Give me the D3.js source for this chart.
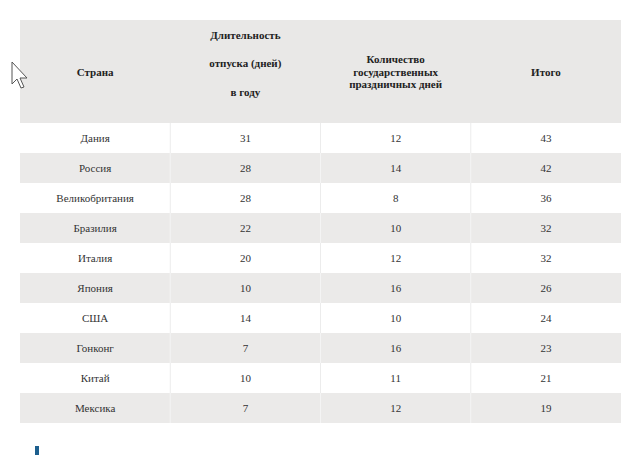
<!DOCTYPE html><html><head><meta charset="utf-8">
<script src="https://cdn.jsdelivr.net/npm/d3@7"></script>
<style>body{margin:0;background:#fff}</style></head><body>
<script>
const countries=["Дания","Россия","Великобритания","Бразилия","Италия","Япония","США","Гонконг","Китай","Мексика"];
const vacation=[31,28,28,22,20,10,14,7,10,7];
const holidays=[12,14,8,10,12,16,10,16,11,12];
const totals=[43,42,36,32,32,26,24,23,21,19];
const headers=[["Страна"],["Длительность","отпуска (дней)","в году"],["Количество","государственных","праздничных дней"],["Итого"]];

const W=640,H=455;
const svg=d3.select("body").append("svg").attr("width",W).attr("height",H);
const x=d3.scaleBand().domain(d3.range(4)).range([20,621]);
const y=d3.scaleBand().domain(d3.range(countries.length)).range([123,423]);
const font="Liberation Serif, DejaVu Serif, serif";

svg.append("rect").attr("x",20).attr("y",20).attr("width",601).attr("height",103).attr("fill","#e9e8e7");
const rows=countries.map((c,i)=>[c,vacation[i],holidays[i],totals[i]]);
const g=svg.selectAll("g.row").data(rows).join("g");
g.append("rect").attr("x",20).attr("y",(d,i)=>y(i)).attr("width",601).attr("height",y.bandwidth())
 .attr("fill",(d,i)=>i%2?"#ebeae9":"#fff");
g.each(function(d,i){
  const gg=d3.select(this);
  [1,2,3].forEach(k=>gg.append("line").attr("x1",x(k)).attr("x2",x(k)).attr("y1",y(i)).attr("y2",y(i)+y.bandwidth())
    .attr("stroke",i%2?"#f4f4f4":"#ececec"));
  d.forEach((v,k)=>gg.append("text").attr("x",x(k)+x.bandwidth()/2).attr("y",y(i)+y.bandwidth()/2+4)
    .attr("text-anchor","middle").attr("font-family",font).attr("font-size",11).attr("fill","#333").text(v));
});
const hy=[[76],[39,67,96],[63,76,88],[76]];
headers.forEach((lines,k)=>lines.forEach((t,j)=>svg.append("text").attr("x",x(k)+x.bandwidth()/2).attr("y",hy[k][j])
  .attr("text-anchor","middle").attr("font-family",font).attr("font-size",11).attr("font-weight","bold").attr("fill","#222").text(t)));
// cursor
svg.append("path").attr("d","M12,62 L12,84 L17,79 L21,88 L24,87 L20,78 L27,78 Z").attr("fill","#fff").attr("stroke","#555").attr("stroke-width",1);
svg.append("rect").attr("x",35).attr("y",446).attr("width",4).attr("height",9).attr("fill","#1d5f8e");
</script></body></html>
